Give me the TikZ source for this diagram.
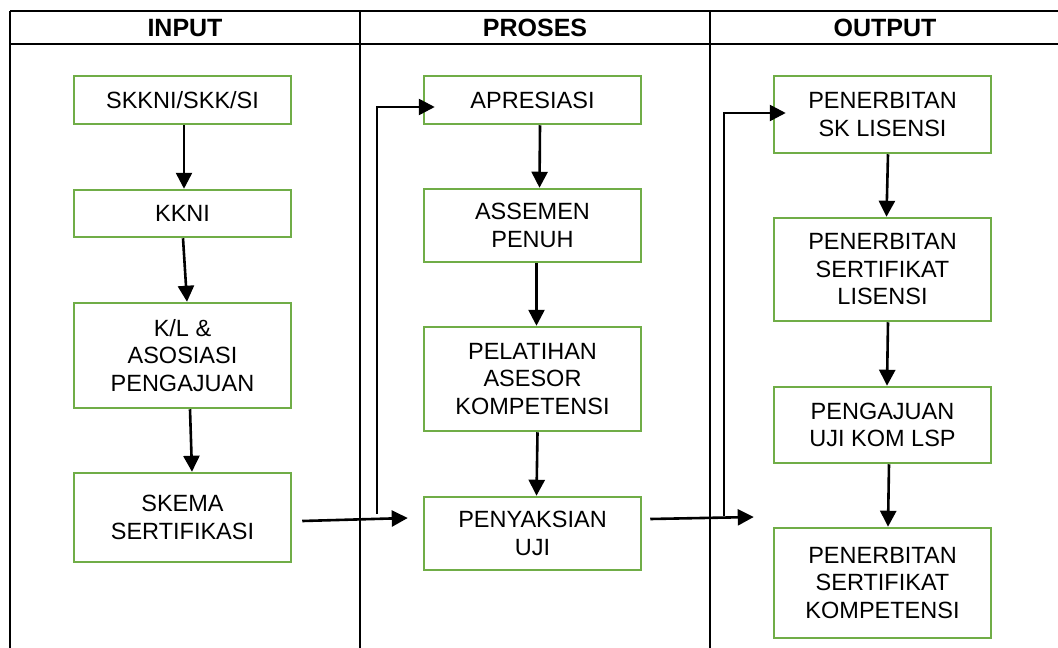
\documentclass[tikz,border=0pt]{standalone}
\usepackage{fontspec}
\setmainfont{Liberation Sans}
\usetikzlibrary{arrows.meta,calc}
\definecolor{boxgreen}{HTML}{70AD47}
\tikzset{
  stepbox/.style={draw=boxgreen, line width=2.5pt, minimum width=217pt, align=center,
    inner sep=0pt, font=\fontsize{23.5}{27.5}\selectfont},
  arr/.style={line width=2.6pt, -{Triangle[length=16pt,width=16pt]}},
  tline/.style={line width=2pt, black},
  head/.style={font=\fontsize{25}{28}\selectfont\bfseries, inner sep=0pt}
}
\begin{document}
\begin{tikzpicture}[x=1pt,y=-1pt]
\useasboundingbox (0,0) rectangle (1058,648);
% table
\draw[tline] (10,11) -- (1058,11);
\draw[tline, line width=2.8pt] (10,44) -- (1058,44);
\draw[tline] (10,11) -- (10,648);
\draw[tline] (360,11) -- (360,648);
\draw[tline] (710,11) -- (710,648);
\node[head] (hin) at (185,28) {INPUT};
\node[head] (hpr) at (535,28) {PROSES};
\node[head] (hout) at (885,28) {OUTPUT};
% input column
\node[stepbox, minimum height=48pt] (a1) at (182.5,100) {SKKNI/SKK/SI};
\node[stepbox, minimum height=47pt] (a2) at (182.5,213.5) {KKNI};
\node[stepbox, minimum height=105pt] (a3) at (182.5,355.5) {K/L \&\\ASOSIASI\\PENGAJUAN};
\node[stepbox, minimum height=89pt] (a4) at (182.5,517.5) {SKEMA\\SERTIFIKASI};
% proses column
\node[stepbox, minimum height=48pt] (b1) at (532.5,100) {APRESIASI};
\node[stepbox, minimum height=73pt] (b2) at (532.5,225.5) {ASSEMEN\\PENUH};
\node[stepbox, minimum height=104pt] (b3) at (532.5,379) {PELATIHAN\\ASESOR\\KOMPETENSI};
\node[stepbox, minimum height=73pt] (b4) at (532.5,533.5) {PENYAKSIAN\\UJI};
% output column
\node[stepbox, minimum height=77pt] (c1) at (882.5,114.5) {PENERBITAN\\SK LISENSI};
\node[stepbox, minimum height=103pt] (c2) at (882.5,269.5) {PENERBITAN\\SERTIFIKAT\\LISENSI};
\node[stepbox, minimum height=76pt] (c3) at (882.5,425) {PENGAJUAN\\UJI KOM LSP};
\node[stepbox, minimum height=110pt] (c4) at (882.5,583) {PENERBITAN\\SERTIFIKAT\\KOMPETENSI};
% vertical arrows
\draw[arr] ($(a1.south)+(1.5,0)$) -- ($(a2.north)+(1.5,0)$);
\draw[arr] ($(a2.south)+(0.5,0)$) -- ($(a3.north)+(4.5,0)$);
\draw[arr] ($(a3.south)+(7.5,0)$) -- ($(a4.north)+(9.5,0)$);
\draw[arr] ($(b1.south)+(7.5,0)$) -- ($(b2.north)+(7,0)$);
\draw[arr] ($(b2.south)+(4,0)$) -- ($(b3.north)+(4,0)$);
\draw[arr] ($(b3.south)+(5,0)$) -- ($(b4.north)+(4,0)$);
\draw[arr] ($(c1.south)+(5.5,0)$) -- ($(c2.north)+(4,0)$);
\draw[arr] ($(c2.south)+(5.5,0)$) -- ($(c3.north)+(4.5,0)$);
\draw[arr] ($(c3.south)+(6.5,0)$) -- ($(c4.north)+(5.5,0)$);
% horizontal and elbow arrows
\coordinate (s1) at ($(a4.east)+(10,3.5)$);
\coordinate (t1) at ($(b4.west)+(-15,-15.5)$);
\draw[arr] (s1) -- (t1);
\coordinate (j1) at (377,514);
\draw[arr] (j1) |- ($(b1.west)+(12,7)$);
\coordinate (s2) at ($(b4.east)+(8,-14.5)$);
\coordinate (t2) at ($(c4.west)+(-19,-66)$);
\draw[arr] (s2) -- (t2);
\coordinate (j2) at (724,516);
\draw[arr] (j2) |- ($(c1.west)+(13,-1.5)$);
\end{tikzpicture}
\end{document}
